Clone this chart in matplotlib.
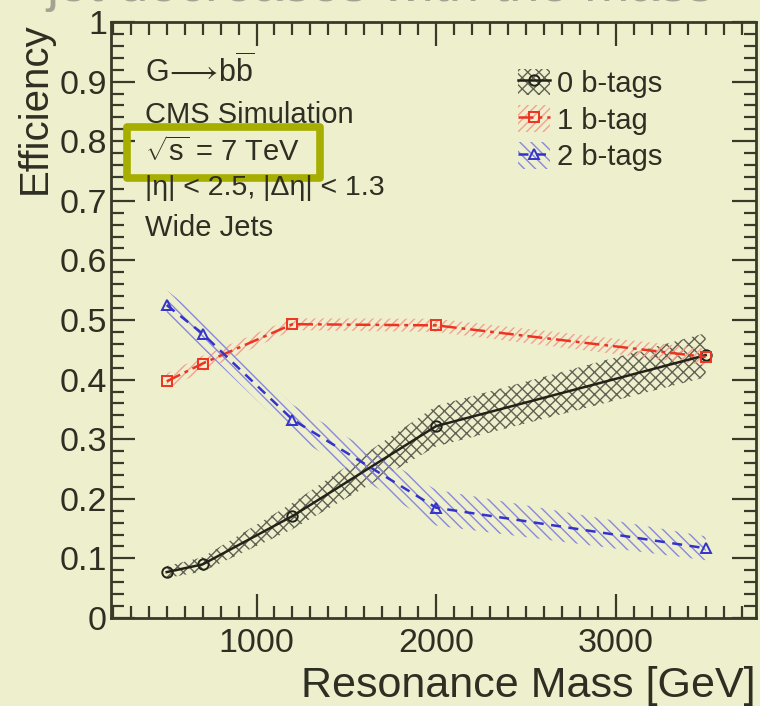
import matplotlib
matplotlib.use("Agg")
import matplotlib.pyplot as plt
from matplotlib.patches import Patch, Rectangle
from matplotlib.lines import Line2D
from matplotlib.ticker import MultipleLocator, FixedLocator

plt.rcParams['font.family'] = ['Liberation Sans', 'DejaVu Sans']
plt.rcParams['mathtext.fontset'] = 'custom'
plt.rcParams['mathtext.rm'] = 'Liberation Sans'
plt.rcParams['mathtext.it'] = 'Liberation Sans'
plt.rcParams['hatch.linewidth'] = 1.0

# ---- data ----
mass = [500, 700, 1200, 2000, 3500]
eff0 = [0.077, 0.090, 0.171, 0.322, 0.441]
err0 = [0.010, 0.012, 0.022, 0.034, 0.037]
eff1 = [0.397, 0.427, 0.493, 0.491, 0.438]
err1 = [0.013, 0.013, 0.010, 0.011, 0.014]
eff2 = [0.525, 0.477, 0.333, 0.185, 0.117]
err2 = [0.025, 0.025, 0.025, 0.030, 0.020]
labels = ["0 b-tags", "1 b-tag", "2 b-tags"]
yticks = [0, 0.1, 0.2, 0.3, 0.4, 0.5, 0.6, 0.7, 0.8, 0.9, 1]
ytick_labels = ["0", "0.1", "0.2", "0.3", "0.4", "0.5", "0.6", "0.7", "0.8", "0.9", "1"]
xticks = [1000, 2000, 3000]
xtick_labels = ["1000", "2000", "3000"]

bg = '#EEEFCD'
ink = '#2e2e22'
spine = '#3a3a28'

fig = plt.figure(figsize=(7.6, 7.06), dpi=100, facecolor=bg)
ax = fig.add_axes([111/760, 88/706, 645/760, 596/706], facecolor=bg)

series = [
    (eff0, err0, '#222218', '-', 'o', 'xxx', '#626254'),
    (eff1, err1, '#ee3322', (0, (6, 2, 1.5, 2)), 's', '////', '#f4a090'),
    (eff2, err2, '#3333cc', (0, (4, 3)), '^', '\\\\\\', '#8888dd'),
]
handles = []
for (y, e, c, ls, m, h, hc) in series:
    lo = [a - b for a, b in zip(y, e)]
    hi = [a + b for a, b in zip(y, e)]
    ax.fill_between(mass, lo, hi, facecolor='none', edgecolor=hc, hatch=h, linewidth=0)
    ax.plot(mass, y, color=c, ls=ls, lw=1.8, marker=m, mfc='none', mec=c, ms=7.5, mew=1.4)
    handles.append((Patch(facecolor='none', edgecolor=hc, hatch=h, linewidth=0),
                    Line2D([], [], color=c, ls=ls, lw=1.8, marker=m, mfc='none', mec=c, ms=7.5, mew=1.4)))

ax.set_xlim(190, 3780)
ax.set_ylim(0, 1)
ax.xaxis.set_major_locator(FixedLocator(xticks))
ax.set_xticklabels(xtick_labels)
ax.xaxis.set_minor_locator(MultipleLocator(100))
ax.yaxis.set_major_locator(FixedLocator(yticks))
ax.set_yticklabels(ytick_labels)
ax.yaxis.set_minor_locator(MultipleLocator(0.02))
ax.tick_params(which='both', direction='in', top=True, right=True, color=spine, width=1.6)
ax.tick_params(which='major', length=17, labelsize=24.5, labelcolor=ink)
ax.tick_params(which='minor', length=9)
ax.tick_params(axis='x', which='major', pad=7)
ax.tick_params(axis='y', which='major', pad=3)
for s in ax.spines.values():
    s.set_color(spine)
    s.set_linewidth(2)

leg = ax.legend(handles, labels, loc='upper left', bbox_to_anchor=(503/760, 1 - 54/706),
                bbox_transform=fig.transFigure, frameon=False, fontsize=21,
                handlelength=1.1, handleheight=1.0, handletextpad=0.25, labelspacing=0.27,
                borderpad=0)
for t in leg.get_texts():
    t.set_color(ink)

tx = 145/760
def fy(p):
    return 1 - p/706
fig.text(tx, fy(72), r"G$\!\longrightarrow\!$b$\overline{\mathrm{b}}$", fontsize=22, color=ink, va='center', ha='left')
fig.text(tx, fy(115), "CMS Simulation", fontsize=21, color=ink, va='center', ha='left')
fig.text(tx, fy(152), r"$\sqrt{\mathrm{s}}$ = 7 TeV", fontsize=21, color=ink, va='center', ha='left')
fig.text(tx, fy(188), "|η| < 2.5, |Δη| < 1.3", fontsize=20.5, color=ink, va='center', ha='left')
fig.text(tx, fy(228), "Wide Jets", fontsize=21, color=ink, va='center', ha='left')

fig.patches.append(Rectangle((127/760, fy(178)), (320-127)/760, (178-127)/706,
                             transform=fig.transFigure, facecolor='none',
                             edgecolor='#a6ae00', linewidth=5.5, joinstyle='round'))

fig.text(35/760, fy(22), "Efficiency", rotation=90, fontsize=29, color=ink, ha='center', va='top')
fig.text(756/760, fy(686), "Resonance Mass [GeV]", fontsize=31, color=ink, ha='right', va='center')
fig.text(46/760, fy(1), "jet decreases with the mass", fontsize=39, color='#a3a392', ha='left', va='baseline')

fig.savefig("out.png", dpi=100, facecolor=bg)
